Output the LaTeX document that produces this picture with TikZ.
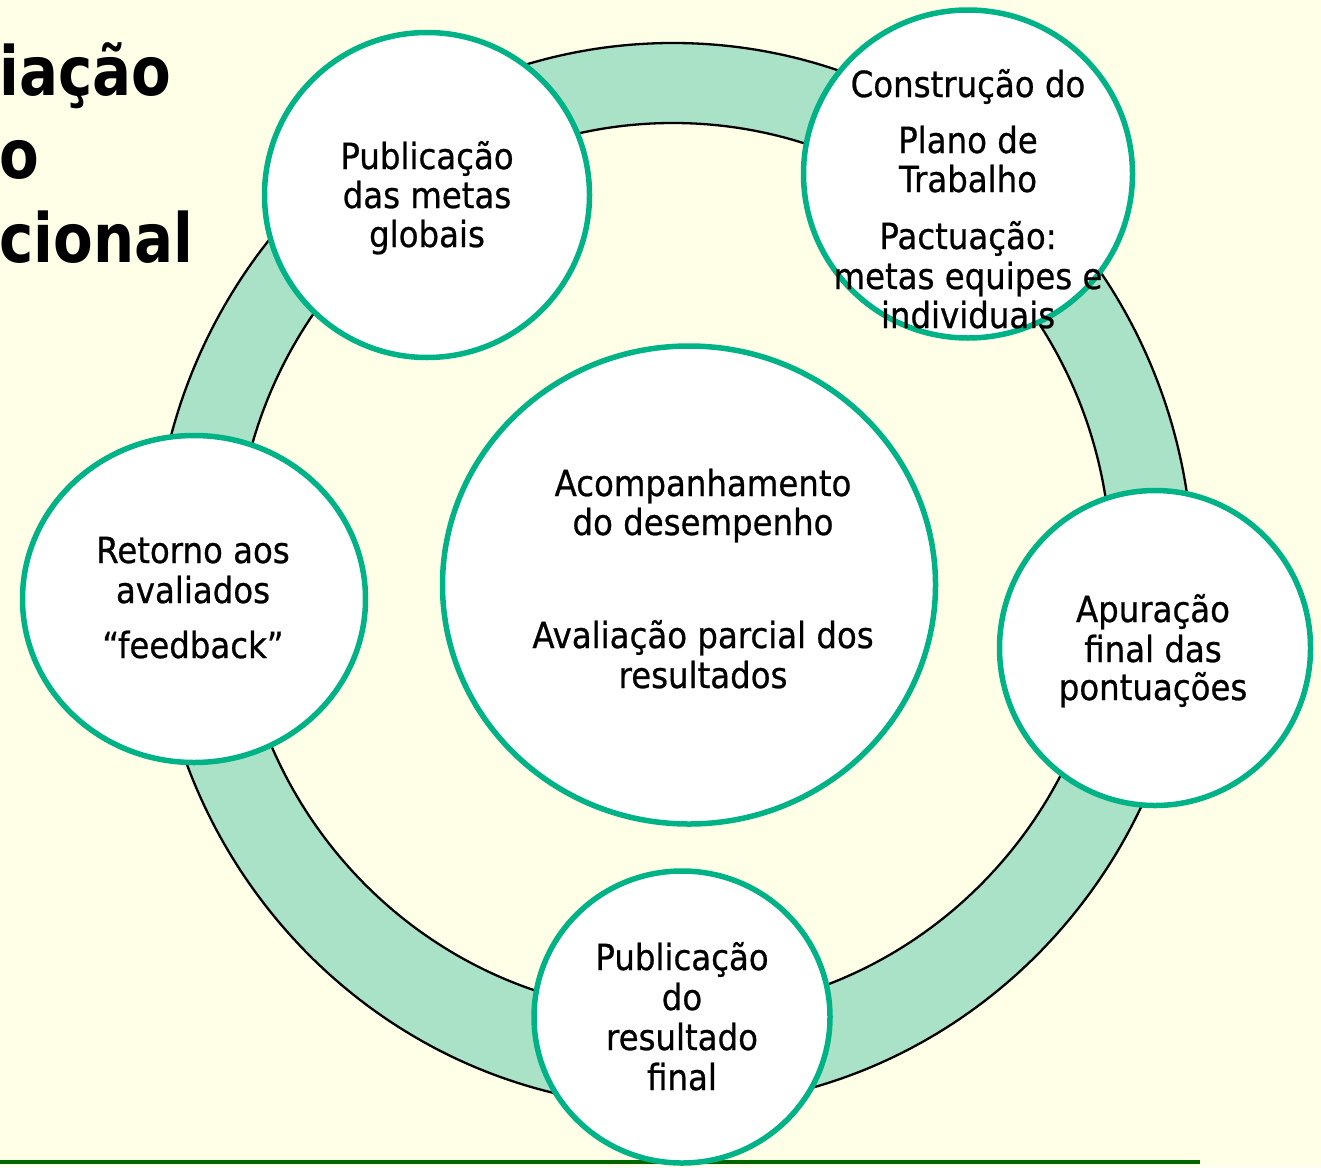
\documentclass[tikz,border=0pt]{standalone}
\usepackage{fontspec}
\setmainfont{DejaVu Sans}[FakeStretch=0.9, FakeBold=0.7]
\newfontfamily\titlefont{DejaVu Sans}[FakeStretch=0.85]
\usetikzlibrary{shapes.geometric}
\definecolor{bg}{HTML}{FFFFE8}
\definecolor{ringfill}{HTML}{AAE2C8}
\definecolor{rim}{HTML}{00B386}
\definecolor{rulegreen}{HTML}{006600}
\begin{document}
\begin{tikzpicture}[x=1pt,y=-1pt,
  stage/.style={ellipse, draw=rim, line width=5.5pt, fill=white, inner sep=0pt},
  lbl/.style={font=\fontsize{36}{40}\selectfont, anchor=base, inner sep=0pt},
  ttl/.style={font=\titlefont\bfseries\fontsize{68}{80}\selectfont, anchor=base west, inner sep=0pt}]
\fill[bg] (0,0) rectangle (1321,1167);
\useasboundingbox (0,0) rectangle (1321,1167);
% title fragments
\node[ttl] (ta) at (-1,95) {iação};
\node[ttl] (tb) at (-1,178) {o};
\node[ttl] (tc) at (-1,262) {cional};
% ring
\filldraw[fill=ringfill, draw=black, line width=2.3pt] (673,575) ellipse [x radius=520pt, y radius=532pt];
\filldraw[fill=bg, draw=black, line width=2.3pt] (673,568) ellipse [x radius=438pt, y radius=445pt];
% bottom rule
\coordinate (ruleA) at (0,1162);
\coordinate (ruleB) at (1200,1162);
\draw[rulegreen, line width=4pt] (ruleA) -- (ruleB);
% stages
\node[stage, minimum width=325pt, minimum height=325pt] (n1) at (427,195) {};
\node[stage, minimum width=329pt, minimum height=328pt] (n2) at (968,174) {};
\node[stage, minimum width=343pt, minimum height=327pt] (n3) at (194,599) {};
\node[stage, minimum width=493pt, minimum height=478pt] (n4) at (689,585) {};
\node[stage, minimum width=311pt, minimum height=315pt] (n5) at (1155,648) {};
\node[stage, minimum width=296pt, minimum height=292pt] (n6) at (682,1017) {};
% labels
\node[lbl] (l1a) at (427,169) {Publicação};
\node[lbl] (l1b) at (427,208) {das metas};
\node[lbl] (l1c) at (427,247) {globais};
\node[lbl] (l2a) at (968,97) {Construção do};
\node[lbl] (l2b) at (968,153) {Plano de};
\node[lbl] (l2c) at (968,192) {Trabalho};
\node[lbl] (l2d) at (968,249) {Pactuação:};
\node[lbl] (l2e) at (968,289) {metas equipes e};
\node[lbl] (l2f) at (968,328) {individuais};
\node[lbl] (l3a) at (193,563) {Retorno aos};
\node[lbl] (l3b) at (193,603) {avaliados};
\node[lbl] (l3c) at (193,658) {“feedback”};
\node[lbl] (l4a) at (703,496) {Acompanhamento};
\node[lbl] (l4b) at (703,535) {do desempenho};
\node[lbl] (l4c) at (703,648) {Avaliação parcial dos};
\node[lbl] (l4d) at (703,688) {resultados};
\node[lbl] (l5a) at (1153,622) {Apuração};
\node[lbl] (l5b) at (1153,662) {final das};
\node[lbl] (l5c) at (1153,700) {pontuações};
\node[lbl] (l6a) at (682,970) {Publicação};
\node[lbl] (l6b) at (682,1010) {do};
\node[lbl] (l6c) at (682,1050) {resultado};
\node[lbl] (l6d) at (682,1090) {final};
\end{tikzpicture}
\end{document}
